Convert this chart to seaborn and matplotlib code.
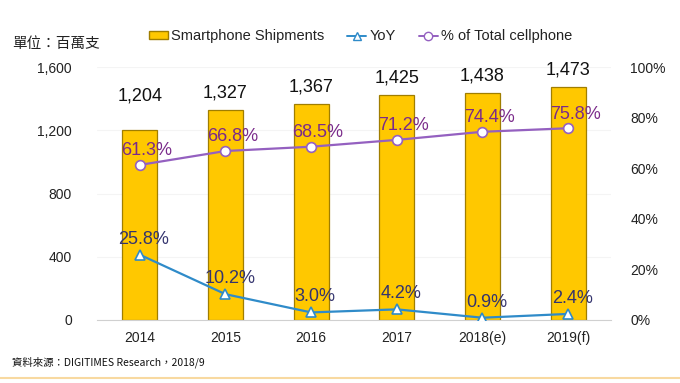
import numpy as np
import pandas as pd
import matplotlib
matplotlib.use('Agg')
import matplotlib.pyplot as plt
import seaborn as sns
from matplotlib.lines import Line2D
from matplotlib.patches import Patch

years = ['2014', '2015', '2016', '2017', '2018(e)', '2019(f)']
shipments = [1204, 1327, 1367, 1425, 1438, 1473]
yoy = [25.8, 10.2, 3.0, 4.2, 0.9, 2.4]
share = [61.3, 66.8, 68.5, 71.2, 74.4, 75.8]

sns.set_style('white')
plt.rcParams['font.family'] = ['Liberation Sans', 'Noto Sans CJK TC', 'DejaVu Sans']

GOLD = '#FFC800'
BLUE = '#2F8BC9'
PURPLE = '#9460C0'

df = pd.DataFrame({'year': years, 'shipments': shipments})

fig = plt.figure(figsize=(6.8, 3.83), dpi=100)
ax = fig.add_axes([0.1426, 0.1645, 0.7559, 0.6605])

sns.barplot(data=df, x='year', y='shipments', color=GOLD, width=0.41,
            edgecolor='#A07E00', linewidth=0.9, saturation=1, ax=ax)
ax.set_ylim(0, 1600)
ax.set_yticks([0, 400, 800, 1200, 1600])
ax.set_yticklabels(['0', '400', '800', '1,200', '1,600'])
ax.set_xlim(-0.5, 5.5)
ax.set_xlabel('')
ax.set_ylabel('')
ax.grid(axis='y', color='#F4F4F4', linewidth=0.8)
ax.set_axisbelow(True)
for s in ['top', 'right', 'left']:
    ax.spines[s].set_visible(False)
ax.spines['bottom'].set_color('#D0D0D0')
ax.tick_params(axis='y', length=0, labelsize=10, colors='#222222', pad=18)
ax.tick_params(axis='x', length=0, labelsize=10, colors='#222222', pad=8)
# category boundary ticks
ax.set_xticks(np.arange(-0.5, 6, 1), minor=True)
ax.tick_params(axis='x', which='minor', length=5, color='#D0D0D0', direction='out')

for i, v in enumerate(shipments):
    off = 18 if i == 0 else 6
    ax.annotate(f'{v:,}', (i, v), xytext=(0, off), textcoords='offset points',
                ha='center', va='bottom', fontsize=13, color='#111111')

ax2 = ax.twinx()
ax2.set_ylim(0, 100)
ax2.set_yticks([0, 20, 40, 60, 80, 100])
ax2.set_yticklabels([f'{t}%' for t in [0, 20, 40, 60, 80, 100]])
ax2.tick_params(axis='y', length=0, labelsize=10, colors='#222222', pad=14)
for s in ax2.spines.values():
    s.set_visible(False)

xs = np.arange(len(years))
ax2.plot(xs, yoy, color=BLUE, linewidth=1.6, marker='^', markersize=7,
         markerfacecolor='white', markeredgecolor=BLUE, markeredgewidth=1.2)
ax2.plot(xs, share, color=PURPLE, linewidth=1.6, marker='o', markersize=7,
         markerfacecolor='white', markeredgecolor=PURPLE, markeredgewidth=1.2)

for i, v in enumerate(yoy):
    ax2.annotate(f'{v:.1f}%', (i, v), xytext=(3, 5), textcoords='offset points',
                 ha='center', va='bottom', fontsize=13, color='#34346E')
for i, v in enumerate(share):
    ax2.annotate(f'{v:.1f}%', (i, v), xytext=(5, 4), textcoords='offset points',
                 ha='center', va='bottom', fontsize=13, color='#7A2A8A')

handles = [
    Patch(facecolor=GOLD, edgecolor='#A07E00'),
    Line2D([], [], color=BLUE, marker='^', markerfacecolor='white', markersize=6, linewidth=1.4),
    Line2D([], [], color=PURPLE, marker='o', markerfacecolor='white', markersize=6, linewidth=1.4),
]
fig.legend(handles, ['Smartphone Shipments', 'YoY', '% of Total cellphone'],
           loc='center', bbox_to_anchor=(0.53, 0.905), ncol=3, frameon=False,
           fontsize=10.5, handlelength=1.3, handleheight=0.5, handletextpad=0.2,
           columnspacing=1.6, labelcolor='#222222')

fig.text(0.018, 0.885, '單位：百萬支', fontsize=10.5, color='#222222',
         family=['Noto Sans CJK TC', 'DejaVu Sans'], va='center')
fig.text(0.018, 0.055, '資料來源：DIGITIMES Research，2018/9', fontsize=7.5,
         color='#111111', family=['Noto Sans CJK TC', 'DejaVu Sans'], va='center')
fig.add_artist(Line2D([0, 1], [0.013, 0.013], color='#F8D9A0', linewidth=1.5,
                      transform=fig.transFigure))

fig.savefig('out.png', dpi=100)
